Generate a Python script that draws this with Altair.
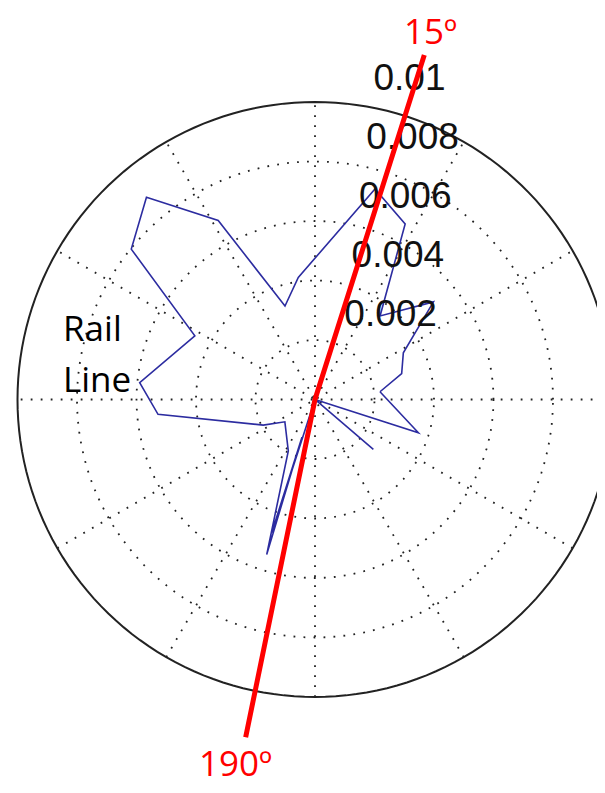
import numpy as np
import pandas as pd
import altair as alt

# ---- values ----
# blue trace: math angle (deg, CCW from east) and radius, in drawing order
theta_deg = [6.8, 16.6, 27.9, 39.5, 52.1, 62.8, 74.1, 97.8, 107.8, 118.4, 129.8,
             140.7, 152.1, 174.5, 185.4, 206.3, 216.5, 242.6, 252.7, 250.9, 252.0,
             290.0, 319.5, 330.0, 342.2, 366.8]
radius = [0.0022, 0.00304, 0.00336, 0.00516, 0.00356, 0.00663, 0.00736, 0.00414,
          0.0033, 0.00684, 0.00885, 0.00798, 0.00457, 0.00592, 0.0053, 0.00194,
          0.00126, 0.00195, 0.00546, 0.00134, 0.0047, 0.0, 0.00258, 0.0, 0.00365,
          0.0022]
ring_values = [0.002, 0.004, 0.006, 0.008]
rmax = 0.01
tick_values = [0.002, 0.004, 0.006, 0.008, 0.01]
tick_labels = ["0.002", "0.004", "0.006", "0.008", "0.01"]
spoke_angles = [30, 60, 90, 120, 150, 180]
red_bearings = [17.6, 191.6]      # compass bearings of the red annotation line
red_lengths = [0.01215, 0.01159]

# ---- tables built from the values ----
W, H = 589, 777
xs = alt.Scale(domain=[-0.0103193, 0.0094790], nice=False, zero=False)
ys = alt.Scale(domain=[-0.0129580, 0.0131597], nice=False, zero=False)

t = np.radians(np.arange(0, 361, 2))
rings = pd.DataFrame([
    {"ring": rv, "i": k, "x": rv * np.cos(a), "y": rv * np.sin(a)}
    for rv in ring_values for k, a in enumerate(t)
])
outer = pd.DataFrame([{"i": k, "x": rmax * np.cos(a), "y": rmax * np.sin(a)}
                      for k, a in enumerate(t)])
spokes = pd.DataFrame([
    {"x": -rmax * np.cos(np.radians(s)), "y": -rmax * np.sin(np.radians(s)),
     "x2": rmax * np.cos(np.radians(s)), "y2": rmax * np.sin(np.radians(s))}
    for s in spoke_angles
])
trace = pd.DataFrame({
    "i": range(len(theta_deg)),
    "x": [r * np.cos(np.radians(a)) for a, r in zip(theta_deg, radius)],
    "y": [r * np.sin(np.radians(a)) for a, r in zip(theta_deg, radius)],
})
ang_lab = np.arccos(0.1227)
ticks = pd.DataFrame({
    "label": tick_labels,
    "x": [v * np.cos(ang_lab) for v in tick_values],
    "y": [v * np.sin(ang_lab) for v in tick_values],
})
red = pd.DataFrame({
    "i": [0, 1, 2],
    "x": [red_lengths[0] * np.sin(np.radians(red_bearings[0])), 0.0,
          red_lengths[1] * np.sin(np.radians(red_bearings[1]))],
    "y": [red_lengths[0] * np.cos(np.radians(red_bearings[0])), 0.0,
          red_lengths[1] * np.cos(np.radians(red_bearings[1]))],
})

X = lambda f="x": alt.X(f"{f}:Q", scale=xs, axis=None)
Y = lambda f="y": alt.Y(f"{f}:Q", scale=ys, axis=None)
dot = dict(strokeDash=[1.8, 8.2], strokeWidth=1.8, color="#222222", clip=True)

ring_layer = alt.Chart(rings).mark_line(**dot).encode(
    x=X(), y=Y(), detail="ring:N", order="i:Q")
spoke_layer = alt.Chart(spokes).mark_rule(**dot).encode(
    x=X(), y=Y(), x2="x2:Q", y2="y2:Q")
outer_layer = alt.Chart(outer).mark_line(color="#222222", strokeWidth=2, clip=True).encode(
    x=X(), y=Y(), order="i:Q")
trace_layer = alt.Chart(trace).mark_line(color="#2c2ca0", strokeWidth=1.6).encode(
    x=X(), y=Y(), order="i:Q")
tick_layer = alt.Chart(ticks).mark_text(
    align="left", baseline="alphabetic", dx=22, dy=-14.5,
    font="Liberation Sans", fontSize=37, color="#111111").encode(
    x=X(), y=Y(), text="label:N")
red_layer = alt.Chart(red).mark_line(color="#ff0000", strokeWidth=5, strokeCap="butt").encode(
    x=X(), y=Y(), order="i:Q")

one = pd.DataFrame({"a": [0]})
def note(txt, px, py, color):
    return alt.Chart(one).mark_text(
        align="left", baseline="alphabetic", font="Open Sans", fontSize=35, color=color
    ).encode(x=alt.value(px), y=alt.value(py), text=alt.value(txt))

chart = alt.layer(
    ring_layer, spoke_layer, outer_layer, trace_layer, tick_layer, red_layer,
    note("Rail", 55, 333, "black"),
    note("Line", 55, 384, "black"),
    note("15º", 396, 36, "#ff0000"),
    note("190º", 191, 768, "#ff0000"),
).properties(width=W, height=H, padding=0).configure_view(stroke=None)

chart.save("out.html", embed_options={"renderer": "svg", "actions": False})
